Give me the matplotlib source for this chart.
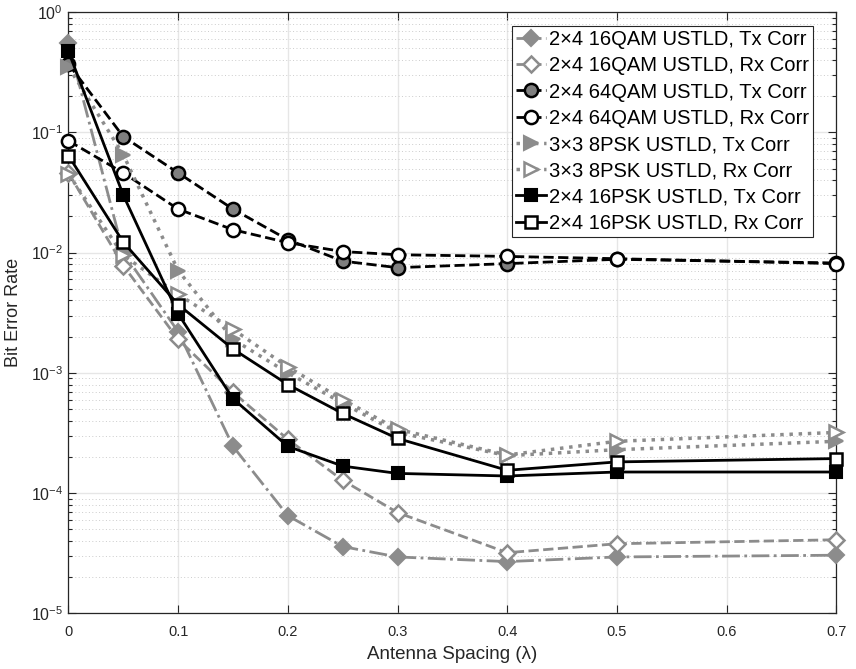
import matplotlib
matplotlib.use("Agg")
import matplotlib.pyplot as plt
from matplotlib.ticker import LogLocator, NullFormatter

plt.rcParams["font.family"] = ["Liberation Sans", "DejaVu Sans"]
plt.rcParams["mathtext.fontset"] = "custom"
plt.rcParams["mathtext.rm"] = "Liberation Sans"
plt.rcParams["mathtext.it"] = "Liberation Sans:italic"

# Data
spacing = [0, 0.05, 0.1, 0.15, 0.2, 0.25, 0.3, 0.4, 0.5, 0.7]

qam16_tx = [0.55, 0.0100, 0.0022, 2.45e-4, 6.5e-5, 3.6e-5, 2.95e-5, 2.7e-5, 2.95e-5, 3.05e-5]
qam16_rx = [0.046, 0.0078, 0.0019, 6.9e-4, 2.8e-4, 1.28e-4, 6.9e-5, 3.2e-5, 3.8e-5, 4.1e-5]
qam64_tx = [0.37, 0.092, 0.046, 0.023, 0.0128, 0.0085, 0.0075, 0.0081, 0.0088, 0.0082]
qam64_rx = [0.085, 0.046, 0.023, 0.0155, 0.0121, 0.0102, 0.0096, 0.0093, 0.0089, 0.0081]
psk8_tx = [0.35, 0.065, 0.0071, 0.0019, 0.00100, 5.6e-4, 3.2e-4, 2.05e-4, 2.3e-4, 2.7e-4]
psk8_rx = [0.045, 0.0095, 0.0045, 0.0023, 0.00112, 6.0e-4, 3.4e-4, 2.08e-4, 2.7e-4, 3.2e-4]
psk16_tx = [0.47, 0.030, 0.0031, 6.1e-4, 2.45e-4, 1.68e-4, 1.46e-4, 1.39e-4, 1.5e-4, 1.5e-4]
psk16_rx = [0.064, 0.0122, 0.0037, 0.00158, 8.0e-4, 4.6e-4, 2.85e-4, 1.55e-4, 1.82e-4, 1.94e-4]

labels = [
    "2\u00d74 16QAM USTLD, Tx Corr",
    "2\u00d74 16QAM USTLD, Rx Corr",
    "2\u00d74 64QAM USTLD, Tx Corr",
    "2\u00d74 64QAM USTLD, Rx Corr",
    "3\u00d73 8PSK USTLD, Tx Corr",
    "3\u00d73 8PSK USTLD, Rx Corr",
    "2\u00d74 16PSK USTLD, Tx Corr",
    "2\u00d74 16PSK USTLD, Rx Corr",
]

gray = "#8c8c8c"
dark = "#262626"

fig = plt.figure(figsize=(8.56, 6.69), dpi=100)
ax = fig.add_axes([0.080, 0.083, 0.897, 0.899])

lw = 2.0
common = dict(lw=lw, clip_on=False, zorder=3)
ax.plot(spacing, qam16_tx, linestyle="-.", color=gray, marker="D", ms=8,
        mfc=gray, mec=gray, mew=1.5, label=labels[0], **common)
ax.plot(spacing, qam16_rx, linestyle="--", color=gray, marker="D", ms=8,
        mfc="white", mec=gray, mew=1.8, label=labels[1], **common)
ax.plot(spacing, qam64_tx, linestyle="--", color="black", marker="o", ms=9.5,
        mfc="#7f7f7f", mec="black", mew=1.8, label=labels[2], **common)
ax.plot(spacing, qam64_rx, linestyle="--", color="black", marker="o", ms=9.5,
        mfc="white", mec="black", mew=1.8, label=labels[3], **common)
ax.plot(spacing, psk8_tx, linestyle=":", color=gray, marker=">", ms=10,
        mfc=gray, mec=gray, mew=1.5, label=labels[4], lw=lw + 0.5, clip_on=False, zorder=3)
ax.plot(spacing, psk8_rx, linestyle=":", color=gray, marker=">", ms=10,
        mfc="white", mec=gray, mew=1.8, label=labels[5], lw=lw + 0.5, clip_on=False, zorder=3)
ax.plot(spacing, psk16_tx, linestyle="-", color="black", marker="s", ms=8,
        mfc="black", mec="black", mew=1.5, label=labels[6], **common)
ax.plot(spacing, psk16_rx, linestyle="-", color="black", marker="s", ms=8,
        mfc="white", mec="black", mew=1.8, label=labels[7], **common)

ax.set_yscale("log")
ax.set_xlim(0, 0.7)
ax.set_ylim(1e-5, 1)
ax.set_xticks([0, 0.1, 0.2, 0.3, 0.4, 0.5, 0.6, 0.7])
ax.set_xticklabels(["0", "0.1", "0.2", "0.3", "0.4", "0.5", "0.6", "0.7"])
ax.yaxis.set_major_locator(LogLocator(base=10, numticks=10))
ax.yaxis.set_minor_locator(LogLocator(base=10, subs=range(2, 10), numticks=20))
ax.yaxis.set_minor_formatter(NullFormatter())

ax.grid(True, which="major", color="#e6e6e6", linestyle="-", linewidth=1.0)
ax.grid(True, which="minor", axis="y", color="#cccccc", linestyle=(0, (1, 2.5)),
        linewidth=0.7)
ax.set_axisbelow(True)

ax.tick_params(which="both", direction="in", top=True, right=True, colors=dark,
               width=0.8)
ax.tick_params(axis="x", labelsize=10.5, pad=8)
ax.tick_params(axis="y", labelsize=11.5, pad=4)
ax.tick_params(which="major", length=6)
ax.tick_params(which="minor", length=3)
for sp in ax.spines.values():
    sp.set_color(dark)
    sp.set_linewidth(0.9)

ax.set_xlabel("Antenna Spacing (\u03bb)", fontsize=13.5, color=dark, labelpad=5)
ax.set_ylabel("Bit Error Rate", fontsize=13, color=dark, labelpad=6)

leg = ax.legend(loc="upper right", bbox_to_anchor=(813 / 856, 1 - 26 / 669),
                bbox_transform=fig.transFigure, borderaxespad=0,
                fontsize=14.5, frameon=True, fancybox=False,
                edgecolor=dark, framealpha=1, handlelength=1.5, handletextpad=0.15,
                labelspacing=0.36, borderpad=0.2)
leg.get_frame().set_linewidth(0.8)

fig.savefig("out.png", dpi=100)
